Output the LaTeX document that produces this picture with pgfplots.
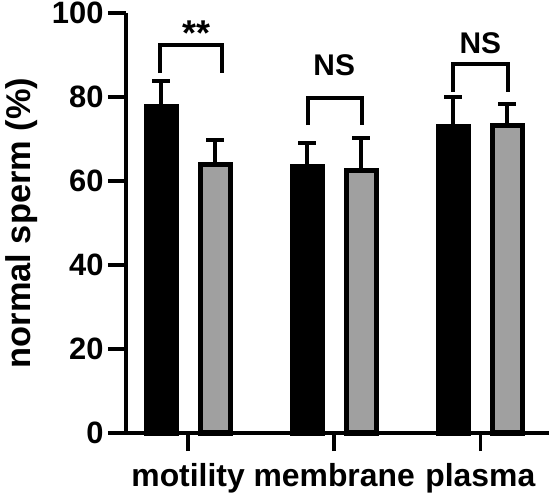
\documentclass[border=0pt]{standalone}
\usepackage{fontspec}
\setmainfont{Liberation Sans}
\usepackage{pgfplots}
\pgfplotsset{compat=1.18}
\definecolor{bargray}{RGB}{160,160,160}
\begin{document}
\begin{tikzpicture}[x=1bp,y=1bp]
\begin{axis}[
  at={(126bp,62bp)}, anchor=south west,
  scale only axis, width=423bp, height=420bp,
  xmin=-0.425, xmax=2.47, ymin=0, ymax=100,
  axis lines*=left,
  axis line style={line width=3.6bp, black},
  tick style={line width=3.6bp, black},
  major tick length=18bp,
  tick align=outside,
  ytick={0,20,40,60,80,100},
  xtick={0,1,2},
  xticklabels={motility,membrane,plasma},
  /pgf/number format/assume math mode=true,
  yticklabel style={font=\fontsize{31}{32}\selectfont\bfseries, xshift=-1bp},
  xticklabel style={font=\fontsize{32}{34}\selectfont\bfseries, anchor=base, yshift=-35bp},
  ylabel={normal sperm (\%)},
  ylabel style={font=\fontsize{34.5}{36}\selectfont\bfseries, at={(axis description cs:-0.246,0.5)}, anchor=center},
  clip=false,
]
\addplot[ybar, bar width=30bp, bar shift=0pt, fill=black, draw=black, line width=5bp,
  error bars/.cd, y dir=plus, y explicit,
  error bar style={line width=4bp, black},
  error mark options={rotate=90, line width=4bp, mark size=9bp, black}]
  coordinates {(-0.185,77.8) +- (0,5.9) (0.815,63.4) +- (0,5.6) (1.815,73.0) +- (0,6.9)};
\addplot[ybar, bar width=30bp, bar shift=0pt, fill=bargray, draw=black, line width=5bp,
  error bars/.cd, y dir=plus, y explicit,
  error bar style={line width=4bp, black},
  error mark options={rotate=90, line width=4bp, mark size=9bp, black}]
  coordinates {(0.185,63.9) +- (0,5.8) (1.185,62.5) +- (0,7.8) (2.185,73.2) +- (0,5.1)};
\draw[line width=4bp, line join=miter] (axis cs:-0.19,85.7) -- (axis cs:-0.19,92.4) -- (axis cs:0.23,92.4) -- (axis cs:0.23,85.7);
\draw[line width=4bp, line join=miter] (axis cs:0.822,73.3) -- (axis cs:0.822,79.8) -- (axis cs:1.192,79.8) -- (axis cs:1.192,73.3);
\draw[line width=4bp, line join=miter] (axis cs:1.815,81.2) -- (axis cs:1.815,87.9) -- (axis cs:2.192,87.9) -- (axis cs:2.192,81.2);
\node[font=\fontsize{36}{38}\selectfont\bfseries, anchor=base] at (axis cs:0.055,92.2) {**};
\node[font=\fontsize{30}{32}\selectfont\bfseries, anchor=base] at (axis cs:1,85.0) {NS};
\node[font=\fontsize{30}{32}\selectfont\bfseries, anchor=base] at (axis cs:2,90.4) {NS};
\end{axis}
\pgfresetboundingbox
\useasboundingbox (0,0) rectangle (550bp,495bp);
\end{tikzpicture}
\end{document}
